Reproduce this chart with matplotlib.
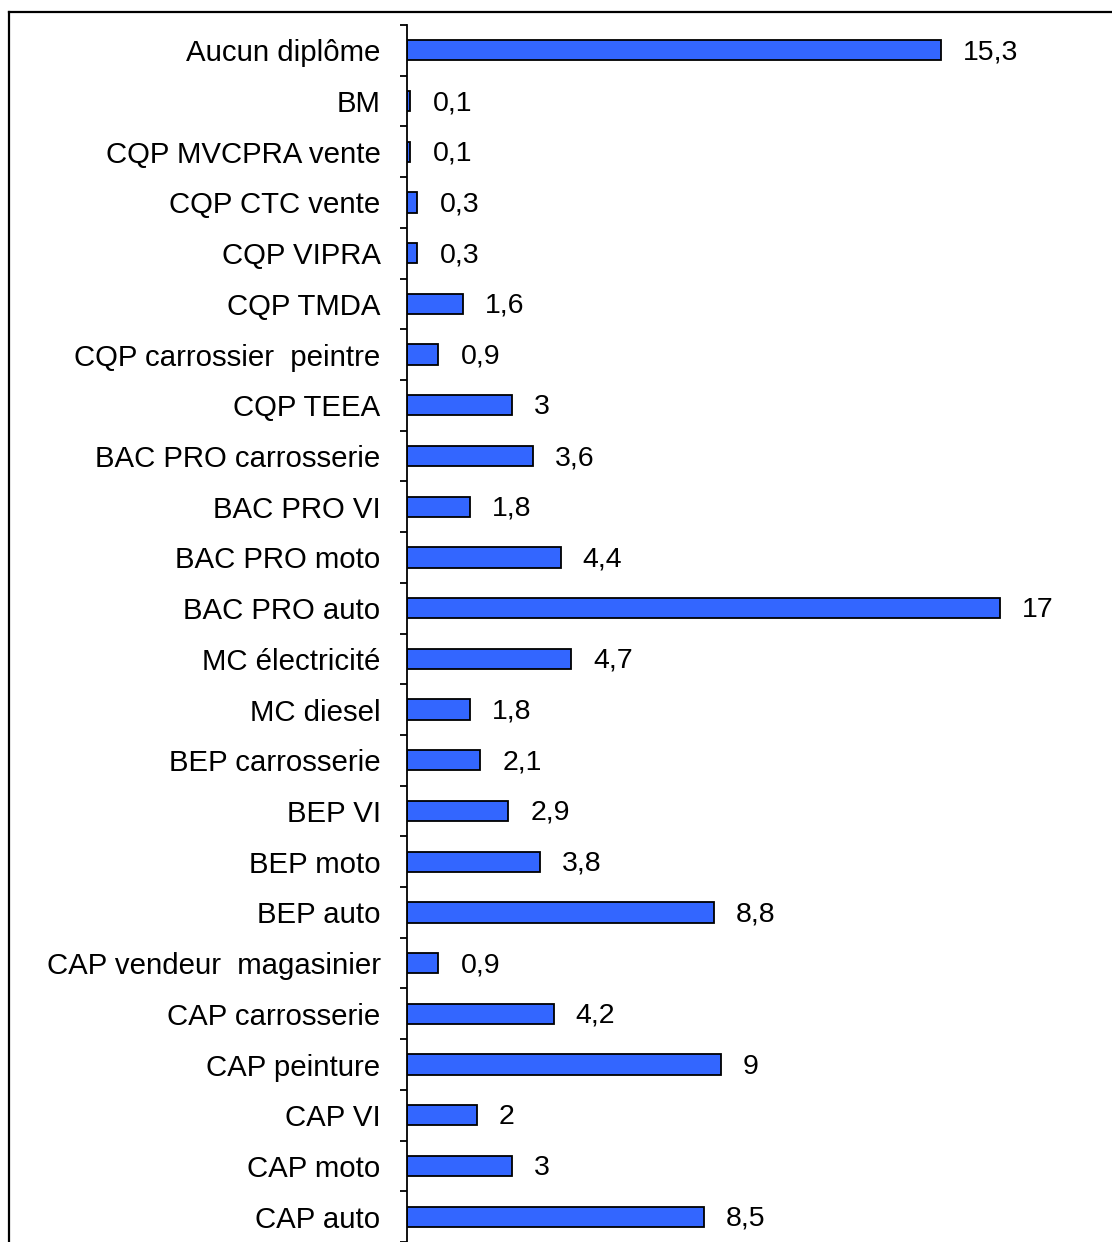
import matplotlib.pyplot as plt
from matplotlib.lines import Line2D

categories = ["CAP auto", "CAP moto", "CAP VI", "CAP peinture", "CAP carrosserie",
              "CAP vendeur  magasinier", "BEP auto", "BEP moto", "BEP VI",
              "BEP carrosserie", "MC diesel", "MC électricité", "BAC PRO auto",
              "BAC PRO moto", "BAC PRO VI", "BAC PRO carrosserie", "CQP TEEA",
              "CQP carrossier  peintre", "CQP TMDA", "CQP VIPRA", "CQP CTC vente",
              "CQP MVCPRA vente", "BM", "Aucun diplôme"]
values = [8.5, 3, 2, 9, 4.2, 0.9, 8.8, 3.8, 2.9, 2.1, 1.8, 4.7, 17, 4.4, 1.8, 3.6,
          3, 0.9, 1.6, 0.3, 0.3, 0.1, 0.1, 15.3]
value_labels = [str(v).replace(".", ",") for v in values]

plt.rcParams['font.family'] = ['Liberation Sans', 'DejaVu Sans']

fig = plt.figure(figsize=(11.12, 12.42), dpi=100)
ax = fig.add_axes([407 / 1112, 0.0, 698 / 1112, 1 - 25 / 1242])

y = list(range(len(categories)))
ax.barh(y, values, height=0.4, color='#3366FF', edgecolor='black', linewidth=1.3)
for yi, v, lab in zip(y, values, value_labels):
    ax.annotate(lab, (v, yi), xytext=(22, -2), textcoords='offset pixels',
                va='center', ha='left', fontsize=20.5)

ax.set_xlim(0, 20)
ax.set_ylim(-0.5, len(categories) - 0.5)
ax.set_yticks(y)
ax.set_yticklabels(categories, fontsize=21.2)
ax.set_yticks([i - 0.5 for i in range(len(categories) + 1)], minor=True)
ax.tick_params(axis='y', which='major', length=0, pad=19)
ax.tick_params(axis='y', which='minor', length=5, width=1.3)
ax.set_xticks([])
for s in ['top', 'right', 'bottom']:
    ax.spines[s].set_visible(False)
ax.spines['left'].set_linewidth(1.3)

# outer frame (top and left edges visible)
fig.add_artist(Line2D([8.5 / 1112, 1.0], [1 - 12 / 1242, 1 - 12 / 1242],
                      transform=fig.transFigure, color='black', linewidth=1.6))
fig.add_artist(Line2D([8.5 / 1112, 8.5 / 1112], [0.0, 1 - 12 / 1242],
                      transform=fig.transFigure, color='black', linewidth=1.6))

fig.savefig('out.png', dpi=100)
